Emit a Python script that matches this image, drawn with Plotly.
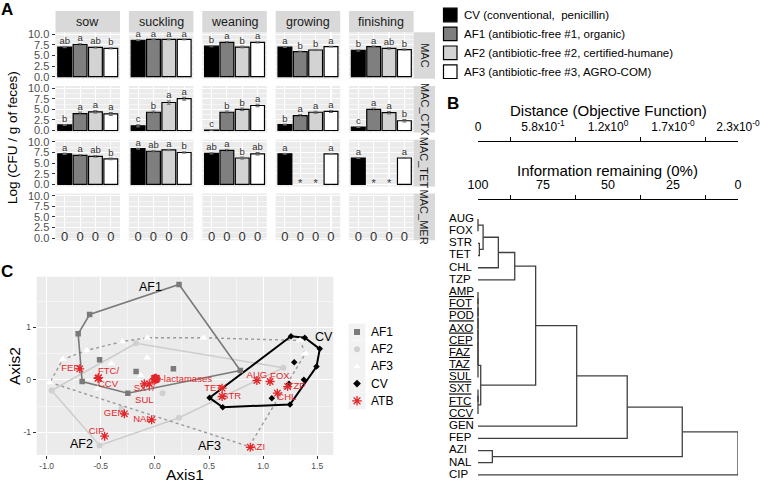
import plotly.graph_objects as go

W, H = 760, 483
FONT = "Liberation Sans, Arial, Helvetica, sans-serif"


def X(p):
    return p / W


def Y(p):
    return 1 - p / H


def ax_ref(letter, k):
    return letter if k == 1 else f"{letter}{k}"


def ax_key(letter, k):
    return f"{letter}axis" if k == 1 else f"{letter}axis{k}"


# ---------------- Panel A data ----------------
stages = ["sow", "suckling", "weaning", "growing", "finishing"]
genes = ["MAC", "MAC_CTX", "MAC_TET", "MAC_MER"]
farms = ["CV", "AF1", "AF2", "AF3"]
farm_labels = ["CV (conventional,  penicillin)",
               "AF1 (antibiotic-free #1, organic)",
               "AF2 (antibiotic-free #2, certified-humane)",
               "AF3 (antibiotic-free #3, AGRO-COM)"]
farm_colors = ["#000000", "#7F7F7F", "#D3D3D3", "#FFFFFF"]

mac = [[7.0, 7.6, 6.9, 6.7], [8.6, 8.8, 8.8, 8.8], [7.2, 8.1, 7.0, 8.1],
       [7.0, 5.9, 6.3, 7.1], [6.2, 7.1, 6.7, 6.4]]
mac_err = [[0.15, 0.2, 0.15, 0.15], [0.1, 0.1, 0.1, 0.1], [0.15, 0.2, 0.2, 0.15],
           [0.1, 0.15, 0.15, 0.1], [0.15, 0.15, 0.2, 0.15]]
mac_let = [["ab", "a", "ab", "b"], ["a", "a", "a", "a"], ["b", "a", "b", "a"],
           ["a", "b", "b", "a"], ["b", "a", "ab", "b"]]

ctx = [[1.3, 4.0, 4.4, 3.9], [1.1, 4.3, 6.6, 7.5], [0.1, 4.3, 5.0, 5.9],
       [1.4, 3.5, 4.3, 4.5], [0.8, 5.0, 4.2, 2.3]]
ctx_err = [[0.1, 0.35, 0.3, 0.35], [0.25, 0.3, 0.4, 0.35], [0.05, 0.3, 0.3, 0.3],
           [0.1, 0.25, 0.25, 0.25], [0.1, 0.3, 0.3, 0.3]]
ctx_let = [["b", "a", "a", "a"], ["c", "b", "a", "a"], ["c", "b", "b", "a"],
           ["b", "a", "a", "a"], ["c", "a", "a", "b"]]

tet = [[7.2, 6.8, 6.6, 6.0], [8.4, 7.8, 8.1, 7.5], [7.3, 8.0, 6.2, 7.2],
       [7.2, 0, 0, 7.2], [6.2, 0, 0, 6.2]]
tet_err = [[0.15, 0.2, 0.2, 0.2], [0.1, 0.2, 0.15, 0.15], [0.15, 0.25, 0.25, 0.3],
           [0.1, 0, 0, 0.1], [0.1, 0, 0, 0.1]]
tet_let = [["a", "a", "ab", "b"], ["a", "ab", "a", "b"], ["ab", "a", "b", "ab"],
           ["a", "*", "*", "a"], ["a", "*", "*", "a"]]

mer = [[0, 0, 0, 0] for _ in range(5)]
mer_err = [[0, 0, 0, 0] for _ in range(5)]
mer_let = [["0", "0", "0", "0"] for _ in range(5)]

values = {"MAC": mac, "MAC_CTX": ctx, "MAC_TET": tet, "MAC_MER": mer}
errors = {"MAC": mac_err, "MAC_CTX": ctx_err, "MAC_TET": tet_err, "MAC_MER": mer_err}
letters = {"MAC": mac_let, "MAC_CTX": ctx_let, "MAC_TET": tet_let, "MAC_MER": mer_let}

# ---------------- Panel B data (cluster dendrogram) ----------------
leaves = ["AUG", "FOX", "STR", "TET", "CHL", "TZP", "AMP", "FOT", "POD", "AXO",
          "CEP", "FAZ", "TAZ", "SUL", "SXT", "FTC", "CCV", "GEN", "FEP", "AZI",
          "NAL", "CIP"]
underlined = ["AMP", "FOT", "POD", "AXO", "CEP", "FAZ", "TAZ", "SUL", "SXT", "FTC", "CCV"]
# linkage: (cluster a, cluster b, distance); new cluster ids start at len(leaves)
link_a = [0, 2, 22, 24, 25, 6, 27, 28, 29, 30, 31, 32, 14, 34, 33, 26, 37, 38, 19, 39, 41]
link_b = [1, 3, 23, 4, 5, 7, 8, 9, 10, 11, 12, 13, 15, 16, 35, 36, 17, 18, 20, 40, 21]
link_d = [0.0, 0.012, 0.045, 0.18, 0.325, 0.0, 0.0, 0.0, 0.0, 0.0, 0.0, 0.0, 0.0, 0.0,
          0.024, 0.51, 0.873, 1.32, 0.127, 1.807, 2.3]
dist_ticks = [0, 0.575, 1.15, 1.725, 2.3]
dist_ticktext = ["0", "5.8x10<sup>-1</sup>", "1.2x10<sup>0</sup>",
                 "1.7x10<sup>-0</sup>", "2.3x10<sup>-0</sup>"]
info_ticktext = ["100", "75", "50", "25", "0"]

# ---------------- Panel C data (ordination) ----------------
af1_x = [0.223, -0.603, -0.709, -0.672, -0.250, 0.789, -0.511, -0.174, 0.171]
af1_y = [1.815, 1.244, 0.876, -0.032, -0.255, 0.177, 0.381, 0.158, 0.210]
af2_x = [-0.954, -0.174, 1.186, 0.223, -0.511, 0.070, -0.310]
af2_y = [-0.204, 0.697, 0.229, -0.724, -1.250, -0.255, -0.550]
af3_x = [-0.97, -0.85, -0.63, -0.30, -0.07, 0.45, 1.34, 1.39, 0.87, -0.40, -0.07, -0.13, 0.94, -0.53]
af3_y = [-0.05, 0.39, 0.56, 0.73, 0.80, 0.80, 0.75, 0.50, -1.27, 0.31, 0.42, 0.08, 0.00, -0.17]
cv_x = [1.257, 1.385, 1.523, 1.493, 1.376, 1.248, 1.080, 0.627, 0.505, 1.287, 1.239]
cv_y = [0.830, 0.800, 0.590, 0.253, 0.000, -0.470, -0.350, -0.522, -0.343, 0.335, -0.076]
atb_names = ["FEP", "FTC", "CCV", "SXT", "SUL", "AMP", "FOT", "POD", "AXO", "CEP", "FAZ",
             "TAZ", "GEN", "NAL", "CIP", "AUG", "FOX", "TET", "STR", "TZP", "CHL", "AZI"]
atb_x = [-0.694, -0.526, -0.520, -0.098, -0.052, 0.005, 0.010, -0.005, 0.012, 0.000, 0.008,
         0.003, -0.282, -0.030, -0.465, 0.942, 1.064, 0.621, 0.621, 1.226, 1.131, 0.881]
atb_y = [0.210, 0.030, 0.040, -0.076, -0.076, 0.030, 0.010, 0.020, 0.030, 0.000, 0.015,
         0.025, -0.648, -0.762, -1.074, -0.013, -0.032, -0.160, -0.318, -0.128, -0.255, -1.284]
atb_label_text = ["FEP", "FTC/<br>CCV", "SXT/<br>SUL", "ß-lactamases", "GEN", "NAL", "CIP",
                  "AUG", "FOX", "TET", "STR", "TZP", "CHL", "AZI"]
atb_label_anchor = ["FEP", "FTC", "SXT", "CEP", "GEN", "NAL", "CIP",
                    "AUG", "FOX", "TET", "STR", "TZP", "CHL", "AZI"]
atb_label_pos = ["middle left", "middle right", "bottom center", "middle right", "middle left",
                 "middle left", "top left", "top center", "top right", "middle left",
                 "middle right", "middle right", "bottom right", "middle right"]

RED = "#E3262A"

fig = go.Figure()
layout = {}
shapes = []
annotations = []

# ================= Panel A =================
PW, PH = 64.5, 46.6
col_x0 = [55.5 + 73.4 * c for c in range(5)]
row_y0 = [32.2 + 53.8 * r for r in range(4)]

k = 0
for r, g in enumerate(genes):
    for c, s in enumerate(stages):
        k += 1
        xa, ya = ax_ref("x", k), ax_ref("y", k)
        vals = values[g][c]
        errs = errors[g][c]
        labs = letters[g][c]
        bar_y = [v if v > 0 else None for v in vals]
        fig.add_trace(go.Bar(
            x=farms, y=bar_y, width=0.9,
            marker=dict(color=farm_colors, line=dict(color="black", width=1.2)),
            error_y=dict(type="data", array=errs, color="#6E6E6E", thickness=1, width=2),
            xaxis=xa, yaxis=ya, showlegend=False, hoverinfo="skip"))
        ty, tpos, tsize = [], [], []
        for v, e, t in zip(vals, errs, labs):
            if t in ("0", "*"):
                ty.append(v)
                tpos.append("middle center")
                tsize.append(13 if t == "0" else 11)
            else:
                ty.append(v + e)
                tpos.append("top center")
                tsize.append(9.5)
        fig.add_trace(go.Scatter(
            x=farms, y=ty, mode="text", text=labs, textposition=tpos,
            textfont=dict(size=tsize, color="#333333", family=FONT),
            xaxis=xa, yaxis=ya, showlegend=False, hoverinfo="skip", cliponaxis=False))
        x0, y0 = col_x0[c], row_y0[r]
        layout[ax_key("x", k)] = dict(
            domain=[X(x0), X(x0 + PW)], anchor=ya, type="category",
            categoryorder="array", categoryarray=farms, range=[-0.6, 3.6],
            showticklabels=False, ticks="", showgrid=True, gridcolor="white",
            gridwidth=1.1, zeroline=False, showline=False, fixedrange=True,
            automargin=False)
        layout[ax_key("y", k)] = dict(
            domain=[Y(y0 + PH), Y(y0)], anchor=xa, range=[-0.5, 10.5],
            tickvals=[0, 2.5, 5, 7.5, 10], ticktext=["0.0", "2.5", "5.0", "7.5", "10.0"],
            showticklabels=(c == 0), ticks="outside" if c == 0 else "",
            ticklen=3, tickcolor="#333333", tickwidth=1,
            tickfont=dict(size=11, color="#4D4D4D", family=FONT),
            showgrid=True, gridcolor="white", gridwidth=1.1,
            minor=dict(tickvals=[1.25, 3.75, 6.25, 8.75], showgrid=True,
                       gridcolor="white", gridwidth=0.5, ticks=""),
            zeroline=False, showline=False, fixedrange=True, automargin=False)
        shapes.append(dict(type="rect", xref=f"{xa} domain", yref=f"{ya} domain",
                           x0=0, x1=1, y0=0, y1=1, fillcolor="#EBEBEB",
                           line=dict(width=0), layer="below"))

# strips
for c, s in enumerate(stages):
    x0 = col_x0[c]
    shapes.append(dict(type="rect", xref="paper", yref="paper", x0=X(x0), x1=X(x0 + PW),
                       y0=Y(32.2), y1=Y(11), fillcolor="#D9D9D9", line=dict(width=0)))
    annotations.append(dict(x=X(x0 + PW / 2), y=Y(21.6), xref="paper", yref="paper",
                            text=s, showarrow=False,
                            font=dict(size=12.5, color="#1A1A1A", family=FONT)))
for r, g in enumerate(genes):
    y0 = row_y0[r]
    shapes.append(dict(type="rect", xref="paper", yref="paper", x0=X(413.6), x1=X(435),
                       y0=Y(y0 + PH), y1=Y(y0), fillcolor="#D9D9D9", line=dict(width=0)))
    annotations.append(dict(x=X(424.3), y=Y(y0 + PH / 2), xref="paper", yref="paper",
                            text=g, textangle=90, showarrow=False,
                            font=dict(size=11, color="#1A1A1A", family=FONT)))

annotations.append(dict(x=X(12), y=Y(138), xref="paper", yref="paper",
                        text="Log (CFU / g of feces)", textangle=-90, showarrow=False,
                        font=dict(size=13.5, color="black", family=FONT)))

# legend of panel A
for i, (lab, col) in enumerate(zip(farm_labels, farm_colors)):
    yc = 15 + 18.9 * i
    shapes.append(dict(type="rect", xref="paper", yref="paper", x0=X(443.5), x1=X(457),
                       y0=Y(yc + 6.8), y1=Y(yc - 6.8), fillcolor=col,
                       line=dict(color="black", width=1.2)))
    annotations.append(dict(x=X(461.5), y=Y(yc), xref="paper", yref="paper", text=lab,
                            xanchor="left", showarrow=False,
                            font=dict(size=11.5, color="black", family=FONT)))

# ================= Panel B =================
n = len(leaves)
node_x = [0.0] * n
node_y = [float(i) for i in range(n)]
seg_x, seg_y = [], []
for a, b, d in zip(link_a, link_b, link_d):
    xa_, ya_ = node_x[a], node_y[a]
    xb_, yb_ = node_x[b], node_y[b]
    seg_x += [xa_, d, d, xb_, None]
    seg_y += [ya_, ya_, yb_, yb_, None]
    node_x.append(d)
    node_y.append((ya_ + yb_) / 2)

fig.add_trace(go.Scatter(x=seg_x, y=seg_y, mode="lines",
                         line=dict(color="#404040", width=1.3),
                         xaxis="x22", yaxis="y22", showlegend=False, hoverinfo="skip",
                         cliponaxis=False))
leaf_text = [f"<u>{l}</u>" if l in underlined else l for l in leaves]
fig.add_trace(go.Scatter(x=[-0.2565] * n, y=list(range(n)), mode="text", text=leaf_text,
                         textposition="middle right",
                         textfont=dict(size=11.5, color="black", family=FONT),
                         xaxis="x22", yaxis="y22", showlegend=False, hoverinfo="skip",
                         cliponaxis=False))
# x-range extended to the left so that the leaf labels fall inside the axis
layout["xaxis22"] = dict(domain=[X(448), X(738)], anchor="y22", range=[-0.2654, 2.3],
                         visible=False, automargin=False)
layout["yaxis22"] = dict(domain=[Y(481), Y(212.9)], anchor="x22", range=[21.5, -0.5],
                         visible=False, automargin=False)

# top scale axes of the dendrogram
for axn, yl, ttext in ((23, 142.3, dist_ticktext), (24, 200.0, info_ticktext)):
    fig.add_trace(go.Scatter(x=[dist_ticks[0], dist_ticks[-1]], y=[0, 0], mode="markers",
                             marker=dict(opacity=0), xaxis=f"x{axn}", yaxis=f"y{axn}",
                             showlegend=False, hoverinfo="skip"))
    layout[f"xaxis{axn}"] = dict(
        domain=[X(478), X(738)], anchor=f"y{axn}", side="top", range=[0, 2.3],
        showline=True, linecolor="black", linewidth=1.4, showgrid=False, zeroline=False,
        tickvals=dist_ticks, ticktext=ttext, ticks="", ticklabelstandoff=5,
        ticklabeloverflow="allow",
        tickfont=dict(size=12 if axn == 23 else 12.5, color="black", family=FONT),
        minor=dict(tickvals=[0.2875, 0.8625, 1.4375, 2.0125], ticks="outside",
                   ticklen=4, tickcolor="black", tickwidth=1.2, showgrid=False),
        automargin=False)
    layout[f"yaxis{axn}"] = dict(domain=[Y(yl + 1), Y(yl)], anchor=f"x{axn}", range=[0, 1],
                                 visible=False, automargin=False)

annotations.append(dict(x=X(608), y=Y(110), xref="paper", yref="paper",
                        text="Distance (Objective Function)", showarrow=False,
                        font=dict(size=15, color="black", family=FONT)))
annotations.append(dict(x=X(607.5), y=Y(170), xref="paper", yref="paper",
                        text="Information remaining (0%)", showarrow=False,
                        font=dict(size=15, color="black", family=FONT)))

# ================= Panel C =================


def hull(xs, ys):
    pts = sorted(set(zip(xs, ys)))

    def cross(o, a, b):
        return (a[0] - o[0]) * (b[1] - o[1]) - (a[1] - o[1]) * (b[0] - o[0])
    lower, upper = [], []
    for p in pts:
        while len(lower) >= 2 and cross(lower[-2], lower[-1], p) <= 0:
            lower.pop()
        lower.append(p)
    for p in reversed(pts):
        while len(upper) >= 2 and cross(upper[-2], upper[-1], p) <= 0:
            upper.pop()
        upper.append(p)
    h = lower[:-1] + upper[:-1]
    h.append(h[0])
    return [p[0] for p in h], [p[1] for p in h]


hx, hy = hull(af2_x, af2_y)
fig.add_trace(go.Scatter(x=hx, y=hy, mode="lines", line=dict(color="#CDCDCD", width=1.6),
                         xaxis="x21", yaxis="y21", showlegend=False, hoverinfo="skip"))
hx, hy = hull(af3_x, af3_y)
fig.add_trace(go.Scatter(x=hx, y=hy, mode="lines",
                         line=dict(color="#9A9A9A", width=1.4, dash="dot"),
                         xaxis="x21", yaxis="y21", showlegend=False, hoverinfo="skip"))
hx, hy = hull(af1_x, af1_y)
fig.add_trace(go.Scatter(x=hx, y=hy, mode="lines", line=dict(color="#7A7A7A", width=1.6),
                         xaxis="x21", yaxis="y21", showlegend=False, hoverinfo="skip"))
hx, hy = hull(cv_x, cv_y)
fig.add_trace(go.Scatter(x=hx, y=hy, mode="lines", line=dict(color="black", width=2),
                         xaxis="x21", yaxis="y21", showlegend=False, hoverinfo="skip"))

fig.add_trace(go.Scatter(x=af2_x, y=af2_y, mode="markers",
                         marker=dict(symbol="circle", size=6, color="#D0D0D0"),
                         xaxis="x21", yaxis="y21", showlegend=False, hoverinfo="skip"))
fig.add_trace(go.Scatter(x=af3_x, y=af3_y, mode="markers",
                         marker=dict(symbol="triangle-up", size=7, color="white"),
                         xaxis="x21", yaxis="y21", showlegend=False, hoverinfo="skip"))
fig.add_trace(go.Scatter(x=af1_x, y=af1_y, mode="markers",
                         marker=dict(symbol="square", size=5.5, color="#7A7A7A"),
                         xaxis="x21", yaxis="y21", showlegend=False, hoverinfo="skip"))
fig.add_trace(go.Scatter(x=cv_x, y=cv_y, mode="markers",
                         marker=dict(symbol="diamond", size=5, color="black"),
                         xaxis="x21", yaxis="y21", showlegend=False, hoverinfo="skip"))
fig.add_trace(go.Scatter(x=atb_x, y=atb_y, mode="markers",
                         marker=dict(symbol="asterisk-open", size=7.5, color=RED,
                                     line=dict(color=RED, width=1.3)),
                         xaxis="x21", yaxis="y21", showlegend=False, hoverinfo="skip"))
lab_x = [atb_x[atb_names.index(a)] for a in atb_label_anchor]
lab_y = [atb_y[atb_names.index(a)] for a in atb_label_anchor]
fig.add_trace(go.Scatter(x=lab_x, y=lab_y, mode="text", text=atb_label_text,
                         textposition=atb_label_pos,
                         textfont=dict(size=9.5, color=RED, family=FONT),
                         xaxis="x21", yaxis="y21", showlegend=False, hoverinfo="skip"))

for t, gx, gy in (("AF1", -0.037, 1.76), ("AF2", -0.68, -1.23), ("AF3", 0.50, -1.26),
                  ("CV", 1.56, 0.81)):
    annotations.append(dict(x=gx, y=gy, xref="x21", yref="y21", text=t, showarrow=False,
                            font=dict(size=12.5, color="black", family=FONT)))

layout["xaxis21"] = dict(
    domain=[X(36.7), X(333.3)], anchor="y21", range=[-1.092, 1.648],
    tickvals=[-1, -0.5, 0, 0.5, 1, 1.5], ticktext=["-1.0", "-0.5", "0.0", "0.5", "1.0", "1.5"],
    ticks="outside", ticklen=3, tickcolor="#333333",
    tickfont=dict(size=8.5, color="#4D4D4D", family=FONT),
    showgrid=True, gridcolor="white", gridwidth=1,
    minor=dict(tickvals=[-0.75, -0.25, 0.25, 0.75, 1.25], showgrid=True,
               gridcolor="white", gridwidth=0.5, ticks=""),
    zeroline=False, showline=False, automargin=False)
layout["yaxis21"] = dict(
    domain=[Y(455), Y(276.7)], anchor="x21", range=[-1.432, 1.964],
    tickvals=[-1, 0, 1], ticktext=["-1", "0", "1"],
    ticks="outside", ticklen=3, tickcolor="#333333",
    tickfont=dict(size=8.5, color="#4D4D4D", family=FONT),
    showgrid=True, gridcolor="white", gridwidth=1,
    minor=dict(tickvals=[-0.5, 0.5, 1.5], showgrid=True, gridcolor="white",
               gridwidth=0.5, ticks=""),
    zeroline=False, showline=False, automargin=False)
shapes.append(dict(type="rect", xref="x21 domain", yref="y21 domain", x0=0, x1=1, y0=0, y1=1,
                   fillcolor="#EBEBEB", line=dict(width=0), layer="below"))
annotations.append(dict(x=X(185), y=Y(474), xref="paper", yref="paper", text="Axis1",
                        showarrow=False, font=dict(size=15.5, color="black", family=FONT)))
annotations.append(dict(x=X(14), y=Y(366), xref="paper", yref="paper", text="Axis2",
                        textangle=-90, showarrow=False,
                        font=dict(size=15.5, color="black", family=FONT)))

# legend of panel C (keys drawn on a helper axis in pixel units)
leg_names = ["AF1", "AF2", "AF3", "CV", "ATB"]
leg_sym = ["square", "circle", "triangle-up", "diamond", "asterisk-open"]
leg_col = ["#7A7A7A", "#D0D0D0", "white", "black", RED]
leg_yc = [332.0 + 17.2 * i for i in range(5)]
for nm, sy, cl, yc in zip(leg_names, leg_sym, leg_col, leg_yc):
    shapes.append(dict(type="rect", xref="paper", yref="paper", x0=X(348.5), x1=X(365.5),
                       y0=Y(yc + 8.5), y1=Y(yc - 8.5), fillcolor="#F2F2F2",
                       line=dict(width=0), layer="below"))
    mk = dict(symbol=sy, size=6 if sy != "asterisk-open" else 8, color=cl)
    if sy == "asterisk-open":
        mk["line"] = dict(color=RED, width=1.3)
    fig.add_trace(go.Scatter(x=[357], y=[yc], mode="markers", marker=mk, xaxis="x25",
                             yaxis="y25", showlegend=False, hoverinfo="skip"))
    annotations.append(dict(x=X(369), y=Y(yc), xref="paper", yref="paper", text=nm,
                            xanchor="left", showarrow=False,
                            font=dict(size=12, color="black", family=FONT)))
layout["xaxis25"] = dict(domain=[X(340), X(375)], anchor="y25", range=[340, 375],
                         visible=False, automargin=False)
layout["yaxis25"] = dict(domain=[Y(420), Y(315)], anchor="x25", range=[420, 315],
                         visible=False, automargin=False)

# panel letters
for t, xx, yy in (("A", 7, 9), ("B", 453, 103), ("C", 7, 271)):
    annotations.append(dict(x=X(xx), y=Y(yy), xref="paper", yref="paper", text=f"<b>{t}</b>",
                            showarrow=False, font=dict(size=17, color="black", family=FONT)))

for a in annotations:
    a.setdefault("xanchor", "center")
    a.setdefault("yanchor", "middle")

fig.update_layout(
    width=W, height=H, autosize=False,
    margin=dict(l=0, r=0, t=0, b=0, pad=0, autoexpand=False),
    paper_bgcolor="white", plot_bgcolor="rgba(0,0,0,0)",
    font=dict(family=FONT, color="black"),
    showlegend=False, bargap=0.1,
    shapes=shapes, annotations=annotations,
    **layout)

fig.write_html("out.html", config={"displayModeBar": False, "staticPlot": True},
               post_script="document.body.style.margin='0px';document.body.style.overflow='hidden';")
